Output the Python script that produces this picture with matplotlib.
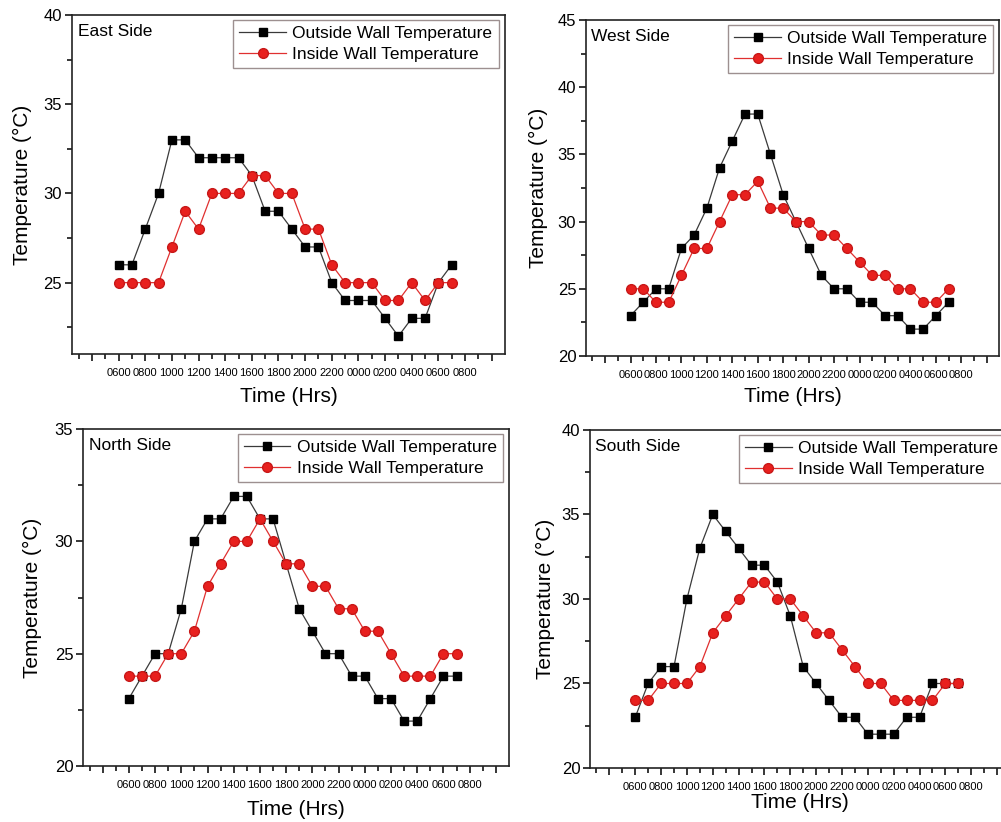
import matplotlib.pyplot as plt
import numpy as np
from matplotlib.ticker import FixedLocator, MultipleLocator

plt.rcParams['font.family'] = ['Liberation Sans', 'DejaVu Sans']

# hourly readings, 0600 day 1 to 0700 day 2
hours = np.arange(6, 32)
tick_hours = list(range(4, 35, 2))
tick_labels = ["", "0600", "0800", "1000", "1200", "1400", "1600", "1800", "2000",
               "2200", "0000", "0200", "0400", "0600", "0800", ""]

east_outside = [26, 26, 28, 30, 33, 33, 32, 32, 32, 32, 31, 29, 29, 28, 27, 27,
                25, 24, 24, 24, 23, 22, 23, 23, 25, 26]
east_inside = [25, 25, 25, 25, 27, 29, 28, 30, 30, 30, 31, 31, 30, 30, 28, 28,
               26, 25, 25, 25, 24, 24, 25, 24, 25, 25]

west_outside = [23, 24, 25, 25, 28, 29, 31, 34, 36, 38, 38, 35, 32, 30, 28, 26,
                25, 25, 24, 24, 23, 23, 22, 22, 23, 24]
west_inside = [25, 25, 24, 24, 26, 28, 28, 30, 32, 32, 33, 31, 31, 30, 30, 29,
               29, 28, 27, 26, 26, 25, 25, 24, 24, 25]

north_outside = [23, 24, 25, 25, 27, 30, 31, 31, 32, 32, 31, 31, 29, 27, 26, 25,
                 25, 24, 24, 23, 23, 22, 22, 23, 24, 24]
north_inside = [24, 24, 24, 25, 25, 26, 28, 29, 30, 30, 31, 30, 29, 29, 28, 28,
                27, 27, 26, 26, 25, 24, 24, 24, 25, 25]

south_outside = [23, 25, 26, 26, 30, 33, 35, 34, 33, 32, 32, 31, 29, 26, 25, 24,
                 23, 23, 22, 22, 22, 23, 23, 25, 25, 25]
south_inside = [24, 24, 25, 25, 25, 26, 28, 29, 30, 31, 31, 30, 30, 29, 28, 28,
                27, 26, 25, 25, 24, 24, 24, 24, 25, 25]


def plot_side(rect, name, outside, inside, ylim, ylab_x, xlab_y):
    ax = fig.add_axes(rect)
    ax.plot(hours, outside, color='#3a3a3a', lw=0.9, marker='s', ms=6,
            mfc='black', mec='black', label='Outside Wall Temperature')
    ax.plot(hours, inside, color='#e03030', lw=0.9, marker='o', ms=7,
            mfc='#e8201e', mec='#c81818', label='Inside Wall Temperature')

    ax.set_xlim(2.5, 35)
    ax.set_ylim(*ylim)
    ax.xaxis.set_major_locator(FixedLocator(tick_hours))
    ax.set_xticklabels(tick_labels, fontsize=8)
    ax.xaxis.set_minor_locator(FixedLocator(list(range(3, 35, 2))))
    ax.yaxis.set_major_locator(MultipleLocator(5))
    ax.yaxis.set_minor_locator(MultipleLocator(2.5))
    ax.tick_params(axis='both', which='major', direction='out', length=5, width=1.1)
    ax.tick_params(axis='both', which='minor', direction='out', length=3.5, width=1.1)
    ax.tick_params(axis='y', labelsize=12, pad=2)
    ax.tick_params(axis='x', pad=5)
    for sp in ax.spines.values():
        sp.set_linewidth(1.2)
        sp.set_color('#222222')

    ax.set_ylabel('Temperature (°C)', fontsize=15)
    ax.set_xlabel('Time (Hrs)', fontsize=15)
    ax.yaxis.set_label_coords(ylab_x, 0.5)
    ax.xaxis.set_label_coords(0.5, xlab_y)

    ax.text(0.013, 0.95, name, transform=ax.transAxes, fontsize=12.5, va='center')
    leg = ax.legend(loc='upper right', bbox_to_anchor=(0.985, 0.985), fontsize=12.5,
                    frameon=True, fancybox=False, handlelength=2.7,
                    handletextpad=0.35, labelspacing=0.3, borderpad=0.35,
                    borderaxespad=0.0)
    leg.get_frame().set_edgecolor('#857575')
    leg.get_frame().set_linewidth(1.0)
    return ax


fig = plt.figure(figsize=(10.01, 8.22), dpi=100)

plot_side([0.0719, 0.5693, 0.4326, 0.4125], 'East Side', east_outside, east_inside,
          (21, 40), -0.092, -0.097)
plot_side([0.5854, 0.5669, 0.4131, 0.4088], 'West Side', west_outside, west_inside,
          (20, 45), -0.092, -0.092)
plot_side([0.0829, 0.0681, 0.4256, 0.4100], 'North Side', north_outside, north_inside,
          (20, 35), -0.096, -0.10)
plot_side([0.5894, 0.0657, 0.4196, 0.4112], 'South Side', south_outside, south_inside,
          (20, 40), -0.083, -0.074)

plt.savefig('out.png', dpi=100)
